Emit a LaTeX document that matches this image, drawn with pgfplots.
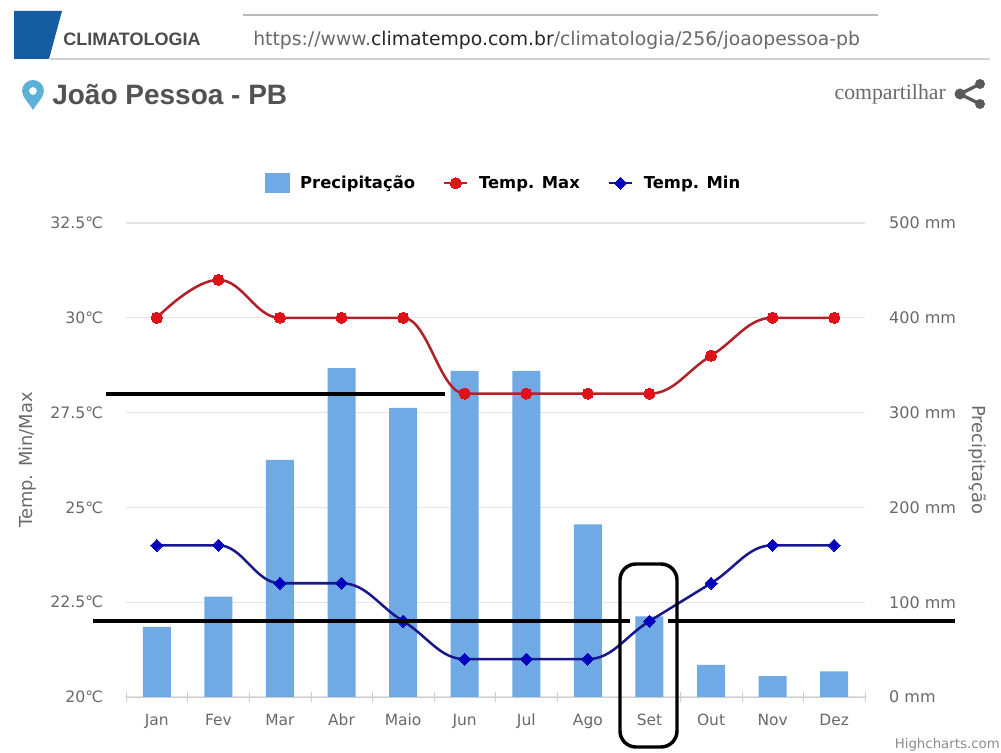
\documentclass[border=0pt]{standalone}
\usepackage{fontspec}
\setmainfont{DejaVu Sans}
\newfontfamily\lib{Liberation Sans}
\newfontfamily\ser{Liberation Serif}
\usepackage{pgfplots}
\pgfplotsset{compat=1.18}
\definecolor{barblue}{RGB}{112,170,228}
\definecolor{gridc}{RGB}{228,228,228}
\definecolor{axc}{RGB}{205,205,205}
\definecolor{labc}{RGB}{105,105,105}
\definecolor{redl}{RGB}{178,32,42}
\definecolor{redm}{RGB}{222,18,24}
\definecolor{bluel}{RGB}{24,24,140}
\definecolor{bluem}{RGB}{0,0,190}
\definecolor{headblue}{RGB}{22,92,160}
\definecolor{pinblue}{RGB}{92,178,214}
\makeatletter
% Highcharts-like spline: flat tangents at extrema and plateaus
\def\pgfplothandlerflatspline{%
  \def\pgf@plotstreamstart{%
    \global\let\pgf@plotstreampoint=\fs@first
    \global\let\pgf@plotstreamspecial=\@gobble
    \global\let\pgf@plotstreamjump=\relax
    \global\let\pgf@plotstreamend=\fs@end}}
\def\fs@first#1{\pgf@process{#1}%
  \xdef\fs@xb{\the\pgf@x}\xdef\fs@yb{\the\pgf@y}%
  \pgf@plot@first@action{\pgfqpoint{\fs@xb}{\fs@yb}}%
  \xdef\fs@cx{\fs@xb}\xdef\fs@cy{\fs@yb}%
  \global\let\pgf@plotstreampoint=\fs@second}
\def\fs@second#1{\pgf@process{#1}%
  \xdef\fs@xa{\fs@xb}\xdef\fs@ya{\fs@yb}%
  \xdef\fs@xb{\the\pgf@x}\xdef\fs@yb{\the\pgf@y}%
  \global\let\pgf@plotstreampoint=\fs@mid}
\def\fs@mid#1{\pgf@process{#1}%
  \edef\fs@xc{\the\pgf@x}\edef\fs@yc{\the\pgf@y}%
  \pgfmathparse{((\fs@yb-\fs@ya)*(\fs@yc-\fs@yb)>0.001)?((\fs@yc-\fs@ya)/5):0}%
  \edef\fs@d{\pgfmathresult pt}%
  \edef\fs@lx{\the\dimexpr\fs@xb-(\fs@xb-\fs@xa)*2/5\relax}%
  \edef\fs@rx{\the\dimexpr\fs@xb+(\fs@xc-\fs@xb)*2/5\relax}%
  \edef\fs@ly{\the\dimexpr\fs@yb-\fs@d\relax}%
  \edef\fs@ry{\the\dimexpr\fs@yb+\fs@d\relax}%
  \pgfpathcurveto{\pgfqpoint{\fs@cx}{\fs@cy}}{\pgfqpoint{\fs@lx}{\fs@ly}}{\pgfqpoint{\fs@xb}{\fs@yb}}%
  \xdef\fs@cx{\fs@rx}\xdef\fs@cy{\fs@ry}%
  \xdef\fs@xa{\fs@xb}\xdef\fs@ya{\fs@yb}%
  \xdef\fs@xb{\fs@xc}\xdef\fs@yb{\fs@yc}}
\def\fs@end{%
  \pgfpathcurveto{\pgfqpoint{\fs@cx}{\fs@cy}}{\pgfqpoint{\fs@xb}{\fs@yb}}{\pgfqpoint{\fs@xb}{\fs@yb}}}
\tikzset{flat spline/.code={\let\tikz@plot@handler=\pgfplothandlerflatspline}}
\makeatother
\begin{document}
\begin{tikzpicture}
\path[use as bounding box,fill=white] (0,0) rectangle (750.75pt,564.75pt);
% precipitation axis
\begin{axis}[
  at={(94.5pt,42pt)},anchor=south west,scale only axis,
  width=554.25pt,height=355.5pt,
  xmin=-0.5,xmax=11.5,ymin=0,ymax=500,
  axis x line=bottom,axis y line=right,
  x axis line style={draw=axc,-},y axis line style={draw=none,-},
  xtick={0,1,2,3,4,5,6,7,8,9,10,11},
  xticklabels={Jan,Fev,Mar,Abr,Maio,Jun,Jul,Ago,Set,Out,Nov,Dez},
  minor xtick={-0.5,0.5,1.5,2.5,3.5,4.5,5.5,6.5,7.5,8.5,9.5,10.5,11.5},
  major x tick style={draw=none},
  minor x tick style={draw=axc},
  minor tick length=7.5pt,
  xticklabel style={font=\fontsize{11.6}{13}\selectfont,text=labc,yshift=-7pt},
  ytick={0,100,200,300,400,500},
  yticklabels={0 mm,100 mm,200 mm,300 mm,400 mm,500 mm},
  yticklabel style={font=\fontsize{12}{14}\selectfont,text=labc,anchor=west,xshift=12.5pt,yshift=0pt},
  y tick style={draw=none},
  ymajorgrids,grid style={draw=gridc,line width=.9pt},
  ylabel={Precipitação},
  ylabel style={font=\fontsize{13.4}{15}\selectfont,text=labc,at={(axis description cs:1.153,0.5)},anchor=center,rotate=180},
]
\addplot[ybar,bar width=21pt,fill=barblue,draw=none,bar shift=0pt] coordinates {
(0,74)(1,106)(2,250)(3,347)(4,305)(5,344)(6,344)(7,182)(8,85)(9,34)(10,22)(11,27)};
\end{axis}
% temperature axis
\begin{axis}[
  at={(94.5pt,42pt)},anchor=south west,scale only axis,
  width=554.25pt,height=355.5pt,
  xmin=-0.5,xmax=11.5,ymin=20,ymax=32.5,clip=false,
  axis x line=none,axis y line=left,
  y axis line style={draw=none,-},y tick style={draw=none},
  ytick={20,22.5,25,27.5,30,32.5},
  yticklabels={20℃,22.5℃,25℃,27.5℃,30℃,32.5℃},
  yticklabel style={font=\fontsize{11.8}{14}\selectfont,text=labc,anchor=east,xshift=-11.5pt,yshift=0pt},
  ylabel={Temp. Min/Max},
  ylabel style={font=\fontsize{13.4}{15}\selectfont,text=labc,at={(axis description cs:-0.133,0.5)},anchor=center},
  legend columns=3,
  legend style={at={(0.5115,1.084)},anchor=center,draw=none,fill=none,
    font=\fontsize{12.3}{14}\selectfont\bfseries,
    /tikz/every odd column/.append style={column sep=6pt},
    /tikz/every even column/.append style={column sep=19pt}},
]
\addlegendimage{legend image code/.code={\fill[barblue] (0cm,-0.25cm) rectangle (0.63cm,0.25cm);}}
\addlegendentry{Precipitação}
\addplot[flat spline,color=redl,line width=1.9pt,mark=*,mark size=4.2pt,mark options={fill=redm,draw=redm,line width=0pt}] coordinates {
(0,30)(1,31)(2,30)(3,30)(4,30)(5,28)(6,28)(7,28)(8,28)(9,29)(10,30)(11,30)};
\addlegendentry{Temp. Max}
\addplot[flat spline,color=bluel,line width=1.9pt,mark=square*,mark size=3.2pt,mark options={fill=bluem,draw=bluem,line width=0pt,rotate=45}] coordinates {
(0,24)(1,24)(2,23)(3,23)(4,22)(5,21)(6,21)(7,21)(8,22)(9,23)(10,24)(11,24)};
\addlegendentry{Temp. Min}
\end{axis}
% overlays in pixel coordinates
\begin{scope}[shift={(0,564.75pt)},x=.75pt,y=-.75pt]
\draw[black,line width=2.4pt] (106,394)--(445,394);
\draw[black,line width=2.4pt] (93,621)--(630,621);
\draw[black,line width=2.4pt] (668,621)--(955,621);
\draw[black,line width=2.6pt,rounded corners=12pt] (620,564) rectangle (677,747);
% header
\fill[headblue] (14,11)--(62,11)--(49,59)--(14,59)--cycle;
\draw[gray!55,line width=1.4pt] (243,15)--(878,15);
\draw[gray!35,line width=1pt] (50,59)--(990,59);
\node[anchor=west,text=black!70,inner sep=0pt,font=\lib\fontsize{13.5}{15}\selectfont\bfseries] at (63,39) {CLIMATOLOGIA};
\node[anchor=west,text=labc,inner sep=0pt,font=\fontsize{14.1}{16}\selectfont] at (253,40) {https://www.\textcolor{black!85}{climatempo.com.br}/climatologia/256/joaopessoa-pb};
\node[anchor=west,text=black!68,inner sep=0pt,font=\lib\fontsize{21}{24}\selectfont\bfseries] at (52,95) {João Pessoa - PB};
\node[anchor=east,text=labc,inner sep=0pt,font=\ser\fontsize{16.3}{18}\selectfont] at (946,94) {compartilhar};
\fill[pinblue,even odd rule] (33,110) .. controls (29,103) and (22,97) .. (22,91) arc[start angle=180,end angle=360,radius=11] .. controls (44,97) and (37,103) .. (33,110) -- cycle (33,91) circle (4);
\fill[black!65] (980,84) circle (5) (980,104) circle (5) (960,94) circle (5.5);
\draw[black!65,line width=2.4pt] (980,84)--(960,94)--(980,104);
\node[anchor=east,text=black!45,inner sep=0pt,font=\fontsize{10}{12}\selectfont] at (1000,745) {Highcharts.com};
\end{scope}
\end{tikzpicture}
\end{document}
